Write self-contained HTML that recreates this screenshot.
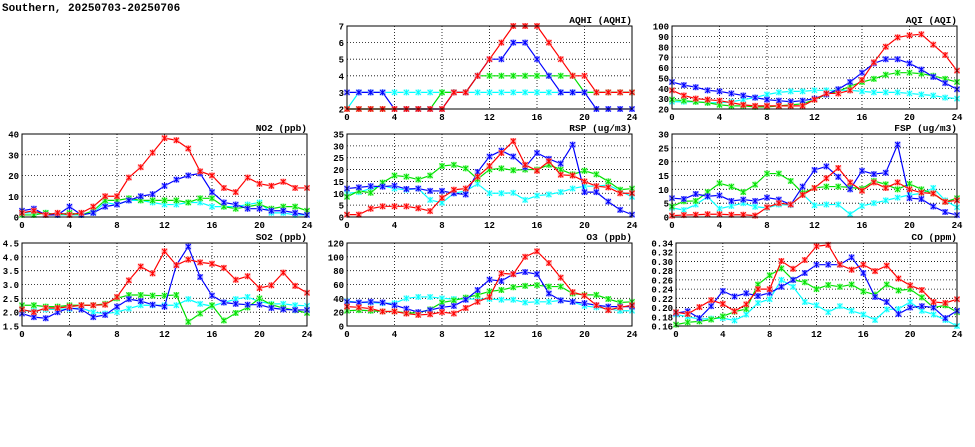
<!DOCTYPE html>
<html><head><meta charset="utf-8"><style>
body{margin:0;background:#fff;width:975px;height:447px;overflow:hidden}
svg{display:block}
text{font-family:"Liberation Mono","DejaVu Sans Mono",monospace;font-weight:bold;fill:#000}
</style></head><body>
<svg id="c" width="975" height="447">
<text x="2" y="11" font-size="11">Southern, 20250703-20250706</text>
</svg>
<script>
const hours=[0,1,2,3,4,5,6,7,8,9,10,11,12,13,14,15,16,17,18,19,20,21,22,23,24];
const xTicks=[0,4,8,12,16,20,24];
const seriesNames=['red','blue','green','cyan'];
const aqhiRed=[2,2,2,2,2,2,2,2,2,3,3,4,5,6,7,7,7,6,5,4,4,3,3,3,3];
const aqhiBlue=[3,3,3,3,2,2,2,2,2,3,3,4,5,5,6,6,5,4,3,3,3,2,2,2,2];
const aqhiGreen=[2,2,2,2,2,2,2,2,3,3,3,4,4,4,4,4,4,4,4,4,3,3,3,3,3];
const aqhiCyan=[2,3,3,3,3,3,3,3,3,3,3,3,3,3,3,3,3,3,3,3,3,3,3,3,3];
const aqiRed=[38,33,30,29,28,26,24,23,23,23,23,23,29,35,35,38,48,65,80,89,91,92,82,72,57];
const aqiBlue=[46,43,41,38,37,35,33,31,29,28,27,28,30,34,39,46,55,64,68,68,64,58,51,45,39];
const aqiGreen=[29,28,27,26,24,23,23,22,22,23,24,25,29,34,37,42,46,49,53,55,55,54,52,49,46];
const aqiCyan=[27,27,27,26,26,27,29,31,34,36,37,37,38,38,38,38,37,36,36,36,35,34,33,31,30];
const no2Red=[2,3,1,2,1,2,5,10,10,19,24,31,38,37,33,22,20,14,12,19,16,15,17,14,14];
const no2Blue=[3,4,1,1,5,1,2,5,6,8,10,11,15,18,20,21,12,7,6,4,4,3,3,2,1];
const no2Green=[1,1,2,1,2,1,3,8,8,9,8,8,8,8,7,9,9,5,4,5,6,4,5,5,3];
const no2Cyan=[2,2,2,1,1,1,2,7,6,8,8,7,6,6,7,7,5,5,5,6,7,2,2,1,1];
const rspRed=[1,1,3.5,4.5,4.5,4.5,3.7,2.5,8,11.5,12,17,21.5,27,32,22,19.5,23.5,17.8,17.5,15,13,12.5,10,10];
const rspBlue=[12,12.5,13,12.8,13.2,11.8,12,11,11,10,9.5,19,25.5,28,25.5,21,27,24.5,22.5,30.5,10.5,10.5,6.5,3,1];
const rspGreen=[8.5,11,10.2,14.5,17.5,17,15.8,17.5,21.5,22,20.5,16,20,20.5,19.7,20,20,22,20,18,19.5,18,15,11.5,12];
const rspCyan=[10,10.5,12,13.2,12,11.5,12,7.2,6,10,11,14,10,10,10.2,7.2,9,9.5,10.5,12,13,13,13.5,11,8.5];
const fspRed=[0.5,0.7,0.8,1,1,0.8,0.8,0.5,3.5,5,4.5,8,10.5,14,17.7,12.5,9.5,12.5,10.5,12.5,10,8.8,8.5,5.5,6];
const fspBlue=[6.8,6.5,8.3,7.5,7.8,5.8,6.3,5.8,7,6.3,4.5,11,17,18.3,14.5,10,16.7,15.5,16,26.2,6.8,6.5,3.8,1.8,0.7];
const fspGreen=[3.8,5.7,5.8,9,12.2,11,9,11.7,15.7,15.7,13,8.7,10.5,11,11,10.7,10.2,13,11.8,10,12,10,8.5,5.5,6.8];
const fspCyan=[3.3,2.5,4.5,7.3,3,4,5,3.7,3.3,4.5,4.3,8.3,4.2,4.5,4.5,1,4,5,6,7,8,8.5,10.5,6,3.5];
const so2Red=[2.1,2.0,2.15,2.15,2.2,2.25,2.25,2.27,2.55,3.15,3.65,3.4,4.2,3.7,3.9,3.8,3.75,3.6,3.17,3.3,2.87,2.97,3.43,2.95,2.7];
const so2Blue=[1.95,1.82,1.78,2.0,2.15,2.1,1.82,1.9,2.2,2.47,2.4,2.27,2.2,3.7,4.37,3.27,2.6,2.35,2.3,2.27,2.27,2.15,2.1,2.08,2.08];
const so2Green=[2.25,2.25,2.2,2.2,2.25,2.25,2.25,2.3,2.5,2.62,2.62,2.6,2.6,2.62,1.65,1.95,2.25,1.7,1.97,2.17,2.5,2.27,2.15,2.07,1.97];
const so2Cyan=[2.05,2.05,2.1,2.1,2.12,2.15,2.0,1.95,2.0,2.13,2.25,2.25,2.25,2.25,2.47,2.3,2.22,2.35,2.47,2.55,2.38,2.3,2.3,2.25,2.23];
const o3Red=[28,27,25,21,21,18,16,17,20,18,26,35,42,76,75,100,108,91,70,49,44,30,23,27,30];
const o3Blue=[35,34,35,34,30,25,20,23,27,29,38,52,67,65,75,78,75,47,37,35,33,30,28,28,28];
const o3Green=[22,23,22,21,21,19,19,24,34,37,41,45,50,52,56,58,59,57,57,47,45,45,39,34,35];
const o3Cyan=[36,34,34,33,33,40,42,42,40,39,39,39,39,38,38,34,35,35,37,35,29,27,25,22,22];
const coRed=[.19,.186,.201,.216,.208,.192,.207,.24,.24,.301,.284,.303,.333,.336,.293,.282,.293,.279,.291,.263,.248,.238,.212,.21,.218];
const coBlue=[.188,.192,.177,.203,.236,.224,.231,.225,.232,.245,.26,.275,.293,.293,.293,.309,.275,.223,.212,.186,.2,.203,.2,.177,.193];
const coGreen=[.163,.168,.17,.174,.181,.191,.197,.25,.27,.285,.26,.255,.24,.249,.245,.25,.235,.228,.25,.237,.24,.222,.2,.205,.19];
const coCyan=[.185,.18,.175,.176,.177,.172,.185,.21,.218,.26,.245,.212,.205,.19,.203,.193,.185,.173,.196,.197,.212,.193,.185,.173,.16];

const NS='http://www.w3.org/2000/svg';
const svg=document.getElementById('c');
const colors={red:'#ff0000',blue:'#0000ff',green:'#00e000',cyan:'#00ffff'};
const halo={red:'#ff9999',blue:'#9999ff',green:'#99ff99',cyan:'#b3ffff'};
function mk(tag,attrs,parent){const e=document.createElementNS(NS,tag);for(const k in attrs)e.setAttribute(k,attrs[k]);(parent||svg).appendChild(e);return e;}

const panels=[
 {id:'aqhi',title:'AQHI (AQHI)',L:347,R:632,T:26,B:109,min:2,max:7,step:1,dec:0,data:{red:aqhiRed,blue:aqhiBlue,green:aqhiGreen,cyan:aqhiCyan}},
 {id:'aqi',title:'AQI (AQI)',L:672,R:957,T:26,B:109,min:20,max:100,step:10,dec:0,data:{red:aqiRed,blue:aqiBlue,green:aqiGreen,cyan:aqiCyan}},
 {id:'no2',title:'NO2 (ppb)',L:22,R:307,T:134,B:217,min:0,max:40,step:10,dec:0,data:{red:no2Red,blue:no2Blue,green:no2Green,cyan:no2Cyan}},
 {id:'rsp',title:'RSP (ug/m3)',L:347,R:632,T:134,B:217,min:0,max:35,step:5,dec:0,data:{red:rspRed,blue:rspBlue,green:rspGreen,cyan:rspCyan}},
 {id:'fsp',title:'FSP (ug/m3)',L:672,R:957,T:134,B:217,min:0,max:30,step:5,dec:0,data:{red:fspRed,blue:fspBlue,green:fspGreen,cyan:fspCyan}},
 {id:'so2',title:'SO2 (ppb)',L:22,R:307,T:243,B:326,min:1.5,max:4.5,step:0.5,dec:1,data:{red:so2Red,blue:so2Blue,green:so2Green,cyan:so2Cyan}},
 {id:'o3',title:'O3 (ppb)',L:347,R:632,T:243,B:326,min:0,max:120,step:20,dec:0,data:{red:o3Red,blue:o3Blue,green:o3Green,cyan:o3Cyan}},
 {id:'co',title:'CO (ppm)',L:676,R:957,T:243,B:326,min:0.16,max:0.34,step:0.02,dec:2,data:{red:coRed,blue:coBlue,green:coGreen,cyan:coCyan}}
];

panels.forEach(p=>{
 const g=mk('g',{});
 
 
 const xs=v=>p.L+(v-0)/(24-0)*(p.R-p.L);
 const ys=v=>p.B-(v-p.min)/(p.max-p.min)*(p.B-p.T);
 const n=Math.round((p.max-p.min)/p.step);
 for(let i=0;i<=n;i++){
  const v=p.min+i*p.step, y=ys(v);
  if(i>0&&i<n){const gl=mk('line',{x1:p.L,x2:p.R,y1:y,y2:y,stroke:'#000','stroke-width':0.8,'stroke-dasharray':'1,2'},g);
   }
  const t=mk('text',{x:p.L-3,y:y+3.5,'font-size':9,'text-anchor':'end'},g);
  t.textContent=v.toFixed(p.dec);
  
 }
 xTicks.forEach((v,i)=>{
  const x=xs(v);
  if(i>0&&i<xTicks.length-1){const gl=mk('line',{x1:x,x2:x,y1:p.T,y2:p.B,stroke:'#000','stroke-width':0.8,'stroke-dasharray':'1,2'},g);
   }
  const t=mk('text',{x:x,y:p.B+11,'font-size':9,'text-anchor':'middle'},g);
  t.textContent=v;
  
 });
 const tt=mk('text',{x:p.R,y:p.T-3,'font-size':9.5,'text-anchor':'end'},g);
 tt.textContent=p.title;
 
 ['cyan','green','blue','red'].forEach(s=>{
  const vals=p.data[s];
  const sg=mk('g',{},g);
  
  
  const pts=vals.map((v,i)=>{let y=ys(v);y=Math.max(p.T,Math.min(p.B,y));return [xs(hours[i]),y];});
  const pl=mk('polyline',{points:pts.map(q=>q.join(',')).join(' '),fill:'none',stroke:colors[s],'stroke-width':1.2},sg);
  
  pts.forEach(([x,y])=>{
   const m=mk('g',{},sg);
   
   
   mk('rect',{x:x-3,y:y-3,width:6,height:6,fill:halo[s],opacity:0.7},m);
   mk('path',{d:`M${x-2.5},${y-2.5}L${x+2.5},${y+2.5}M${x-2.5},${y+2.5}L${x+2.5},${y-2.5}M${x},${y-3}L${x},${y+3}`,stroke:colors[s],'stroke-width':1},m);
  });
 });
 const fr=mk('rect',{x:p.L,y:p.T,width:p.R-p.L,height:p.B-p.T,fill:'none',stroke:'#000','stroke-width':1},g);
 
});
</script>
</body></html>
